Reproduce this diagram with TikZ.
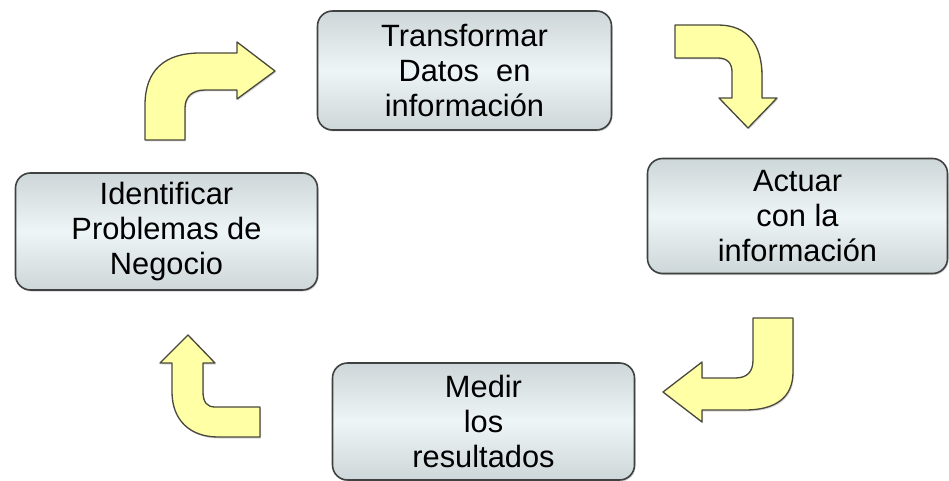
\documentclass[tikz,border=0pt]{standalone}
\usepackage{fontspec}
\setmainfont{Liberation Sans}
\usetikzlibrary{shadows}
\definecolor{boxedge}{RGB}{64,66,66}
\definecolor{boxouter}{RGB}{205,214,216}
\definecolor{boxinner}{RGB}{238,245,247}
\definecolor{arrowfill}{RGB}{255,255,166}
\definecolor{arrowedge}{RGB}{72,72,60}
\tikzset{
  stepbox/.style={draw=boxedge, line width=1.6pt, rounded corners=15pt,
    top color=boxouter, bottom color=boxouter, middle color=boxinner,
    align=center, inner sep=0pt,
    font=\fontsize{30.8}{35}\selectfont,
    drop shadow={shadow xshift=1pt, shadow yshift=-1.5pt, opacity=0.35}},
  bentarrow/.style={draw=arrowedge, line width=1.3pt, fill=arrowfill, line join=round,
    drop shadow={shadow xshift=1pt, shadow yshift=-1.5pt, opacity=0.3}}
}
\begin{document}
\begin{tikzpicture}[x=1pt,y=-1pt]
\useasboundingbox (0,0) rectangle (949,481);

% boxes
\node[stepbox, minimum width=294pt, minimum height=119pt] (trans) at (464.5,70.5)
  {Transformar\\Datos\ \ en\\información};
\node[stepbox, minimum width=302pt, minimum height=117pt] (ident) at (166.5,231.5)
  {Identificar\\Problemas de\\Negocio};
\node[stepbox, minimum width=300pt, minimum height=115pt] (actuar) at (797.5,216)
  {Actuar\\con la\\información};
\node[stepbox, minimum width=302pt, minimum height=117pt] (medir) at (483.5,421.5)
  {Medir\\los\\resultados};

% top-left arrow (up then right)
\draw[bentarrow] (145,140) -- (145,105) .. controls (145,70) and (165,53) .. (200,53)
  -- (237,53) -- (237,42) -- (275,71) -- (237,99) -- (237,90) -- (205,90)
  .. controls (192,90) and (185,97) .. (185,108) -- (185,140) -- cycle;

% top-right arrow (right then down)
\draw[bentarrow] (675,25) -- (718,25) .. controls (748,25) and (762,45) .. (762,76)
  -- (762,98) -- (777,98) -- (748,128) -- (719,98) -- (732,98) -- (732,72)
  .. controls (732,63) and (727,58) .. (718,58) -- (675,58) -- cycle;

% bottom-right arrow (down then left)
\draw[bentarrow] (753,318) -- (793,318) -- (793,372) .. controls (793,398) and (775,410) .. (745,410)
  -- (702,410) -- (702,422) -- (663,392) -- (702,362) -- (702,378) -- (735,378)
  .. controls (747,378) and (753,372) .. (753,360) -- cycle;

% bottom-left arrow (left then up)
\draw[bentarrow] (260,407) -- (215,407) .. controls (207,407) and (203,402) .. (203,392)
  -- (203,363) -- (215,363) -- (188,335) -- (160,363) -- (172,363) -- (172,392)
  .. controls (172,420) and (190,437) .. (218,437) -- (260,437) -- cycle;
\end{tikzpicture}
\end{document}
